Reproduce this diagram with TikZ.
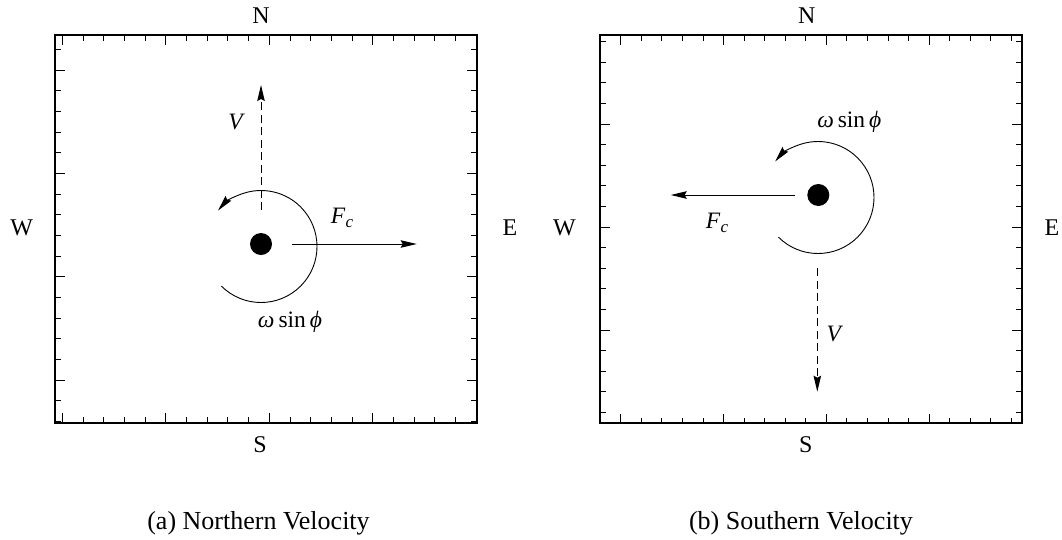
\documentclass[tikz,border=0pt]{standalone}
\usepackage{fontspec}
\setmainfont{Liberation Serif}
\usetikzlibrary{arrows.meta,calc}
\tikzset{
  frame/.style={line width=1.8pt},
  tickmark/.style={line width=0.9pt},
  compass/.style={font=\fontsize{24}{24}\selectfont, anchor=base, inner sep=0pt},
  caption/.style={font=\fontsize{26}{26}\selectfont, anchor=base, inner sep=0pt},
  lbl/.style={font=\fontsize{23.5}{23.5}\selectfont, anchor=base, inner sep=0pt},
  dot/.style={circle, fill=black, minimum size=22pt, inner sep=0pt},
  vec/.style={line width=1pt, -{Stealth[length=16pt,width=7.5pt,inset=2pt]}},
  dvec/.style={vec, dash pattern=on 8pt off 4.5pt},
  rot/.style={line width=0.9pt, -{Stealth[length=16pt,width=7.5pt,inset=2pt]}}
}
\newcommand{\Fc}{\textit{F}\raisebox{-4.5pt}{\fontsize{17}{17}\selectfont\textit{c}}}
\newcommand{\wsp}{\textit{ω}\,sin\,\textit{ϕ}}
\begin{document}
\begin{tikzpicture}[x=1pt,y=-1pt]
\useasboundingbox (0,0) rectangle (1062,539);
% ---------- left panel ----------
\draw[frame] (55.3,35) rectangle (476.7,422.7);
\foreach \k in {0,...,20}{
  \pgfmathsetmacro\xx{62.3+20.7*\k}
  \pgfmathsetmacro\len{ifthenelse(mod(\k,5)==0,9.5,5.5)}
  \draw[tickmark] (\xx,35) -- ++(0,\len);
  \draw[tickmark] (\xx,422.7) -- ++(0,-\len);
}
\foreach \j in {-1,...,17}{
  \pgfmathsetmacro\yy{70+20.67*\j}
  \pgfmathsetmacro\len{ifthenelse(mod(\j,5)==0,9.5,5.5)}
  \draw[tickmark] (55.3,\yy) -- ++(\len,0);
  \draw[tickmark] (476.7,\yy) -- ++(-\len,0);
}
\node[compass] (N1) at (261,23.3) {N};
\node[compass] (S1) at (260,452.7) {S};
\node[compass] (W1) at (21.7,235) {W};
\node[compass] (E1) at (510,235) {E};
\node[caption] (C1) at (258.5,529) {(a) Northern Velocity};
\node[dot] (D1) at (261,244) {};
\coordinate (A1c) at (261,246.5);
\draw[rot] ($(A1c)+(-225:56)$) arc[start angle=-225, end angle=-500, radius=56];
\coordinate (V1s) at (261,210);
\coordinate (V1e) at (261,85);
\draw[dvec] (V1s) -- (V1e);
\coordinate (F1s) at (292.3,244);
\coordinate (F1e) at (416.7,244);
\draw[vec] (F1s) -- (F1e);
\node[lbl] (LV1) at (236.7,129.3) {\textit{V}};
\node[lbl] (LF1) at (342,223) {\Fc};
\node[lbl] (LW1) at (290,327.3) {\wsp};
% ---------- right panel ----------
\draw[frame] (600,35) rectangle (1021.7,423.3);
\foreach \k in {-1,...,19}{
  \pgfmathsetmacro\xx{620.7+20.56*\k}
  \pgfmathsetmacro\len{ifthenelse(mod(\k,5)==0,9.5,5.5)}
  \draw[tickmark] (\xx,35) -- ++(0,\len);
  \draw[tickmark] (\xx,423.3) -- ++(0,-\len);
}
\foreach \j in {-4,...,14}{
  \pgfmathsetmacro\yy{124+20.6*\j}
  \pgfmathsetmacro\len{ifthenelse(mod(\j,5)==0,9.5,5.5)}
  \draw[tickmark] (600,\yy) -- ++(\len,0);
  \draw[tickmark] (1021.7,\yy) -- ++(-\len,0);
}
\node[compass] (N2) at (806.7,23.3) {N};
\node[compass] (S2) at (805.7,452.7) {S};
\node[compass] (W2) at (564.5,235) {W};
\node[compass] (E2) at (1052,235) {E};
\node[caption] (C2) at (801,529) {(b) Southern Velocity};
\node[dot] (D2) at (818.3,195) {};
\coordinate (A2c) at (818,197.5);
\draw[rot] ($(A2c)+(-225:56)$) arc[start angle=-225, end angle=-500, radius=56];
\coordinate (V2s) at (817.3,268.3);
\coordinate (V2e) at (817.3,391.7);
\draw[dvec] (V2s) -- (V2e);
\coordinate (F2s) at (795,195);
\coordinate (F2e) at (670.7,195);
\draw[vec] (F2s) -- (F2e);
\node[lbl] (LV2) at (835,341.7) {\textit{V}};
\node[lbl] (LF2) at (717,228.3) {\Fc};
\node[lbl] (LW2) at (849.3,127.7) {\wsp};
\end{tikzpicture}
\end{document}
